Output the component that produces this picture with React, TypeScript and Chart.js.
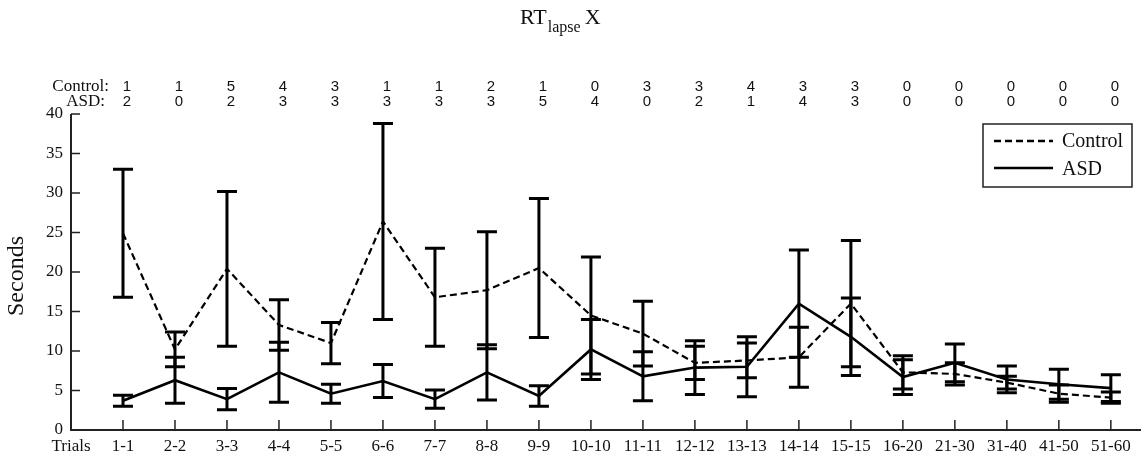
import React, { useEffect, useRef } from 'react';
import { Chart, registerables } from 'chart.js';

Chart.register(...registerables);

const categories = ['1-1', '2-2', '3-3', '4-4', '5-5', '6-6', '7-7', '8-8', '9-9', '10-10', '11-11', '12-12', '13-13', '14-14', '15-15', '16-20', '21-30', '31-40', '41-50', '51-60'];
const controlCounts = [1, 1, 5, 4, 3, 1, 1, 2, 1, 0, 3, 3, 4, 3, 3, 0, 0, 0, 0, 0];
const asdCounts = [2, 0, 2, 3, 3, 3, 3, 3, 5, 4, 0, 2, 1, 4, 3, 0, 0, 0, 0, 0];

const controlMean = [24.9, 10.2, 20.4, 13.3, 11.0, 26.4, 16.8, 17.7, 20.5, 14.5, 12.2, 8.5, 8.8, 9.2, 16.0, 7.3, 7.1, 6.0, 4.6, 4.1];
const controlErr = [8.1, 2.2, 9.8, 3.2, 2.6, 12.4, 6.2, 7.4, 8.8, 7.4, 4.1, 2.1, 2.2, 3.8, 8.0, 2.1, 1.4, 0.8, 1.1, 0.7];
const asdMean = [3.7, 6.3, 3.9, 7.3, 4.6, 6.2, 3.9, 7.3, 4.3, 10.2, 6.8, 7.9, 8.0, 16.0, 11.8, 6.7, 8.5, 6.4, 5.8, 5.3];
const asdErr = [0.7, 2.9, 1.35, 3.8, 1.2, 2.1, 1.15, 3.5, 1.3, 3.8, 3.1, 3.4, 3.8, 6.8, 4.9, 2.2, 2.4, 1.7, 1.9, 1.7];

const yTicks = [0, 5, 10, 15, 20, 25, 30, 35, 40];

const W = 1146;
const H = 458;
const SERIF = '"Liberation Serif", "Times New Roman", serif';
const SANS = '"Liberation Sans", Arial, sans-serif';
const INK = '#111';

export default function App() {
  const ref = useRef<HTMLCanvasElement>(null);

  useEffect(() => {
    const canvas = ref.current;
    if (!canvas) return;

    const overlay = {
      id: 'overlay',
      afterDatasetsDraw(chart: any) {
        const ctx = chart.ctx;
        const xs = chart.scales.x;
        const ys = chart.scales.y;
        const { left, right, top, bottom } = chart.chartArea;
        ctx.save();

        // error bars
        const drawBars = (mean: number[], err: number[]) => {
          ctx.strokeStyle = '#000';
          ctx.lineWidth = 3;
          ctx.setLineDash([]);
          mean.forEach((m, i) => {
            const x = xs.getPixelForValue(i + 1);
            const yHi = ys.getPixelForValue(m + err[i]);
            const yLo = ys.getPixelForValue(m - err[i]);
            ctx.beginPath();
            ctx.moveTo(x, yHi);
            ctx.lineTo(x, yLo);
            ctx.moveTo(x - 10, yHi);
            ctx.lineTo(x + 10, yHi);
            ctx.moveTo(x - 10, yLo);
            ctx.lineTo(x + 10, yLo);
            ctx.stroke();
          });
        };
        drawBars(controlMean, controlErr);
        drawBars(asdMean, asdErr);

        // axes
        ctx.strokeStyle = '#222';
        ctx.lineWidth = 2;
        ctx.beginPath();
        ctx.moveTo(left, top);
        ctx.lineTo(left, bottom);
        ctx.lineTo(right, bottom);
        ctx.stroke();
        ctx.lineWidth = 1.5;
        ctx.beginPath();
        yTicks.forEach((v) => {
          const y = ys.getPixelForValue(v);
          ctx.moveTo(left, y);
          ctx.lineTo(left + 9, y);
        });
        categories.forEach((_, i) => {
          const x = xs.getPixelForValue(i + 1);
          ctx.moveTo(x, bottom);
          ctx.lineTo(x, bottom - 10);
        });
        ctx.stroke();

        // counts rows
        ctx.fillStyle = INK;
        ctx.textBaseline = 'middle';
        ctx.textAlign = 'right';
        ctx.font = `17px ${SERIF}`;
        ctx.fillText('Control:', 109, 87);
        ctx.fillText('ASD:', 105, 102);
        ctx.textAlign = 'center';
        ctx.font = `15px ${SANS}`;
        categories.forEach((_, i) => {
          const x = xs.getPixelForValue(i + 1) + 4;
          ctx.fillText(String(controlCounts[i]), x, 87);
          ctx.fillText(String(asdCounts[i]), x, 102);
        });

        // title
        ctx.textAlign = 'left';
        ctx.textBaseline = 'alphabetic';
        ctx.font = `22px ${SERIF}`;
        let tx = 520;
        ctx.fillText('RT', tx, 24);
        tx += ctx.measureText('RT').width + 1;
        ctx.font = `16px ${SERIF}`;
        ctx.fillText('lapse', tx, 32);
        tx += ctx.measureText('lapse').width + 4;
        ctx.font = `22px ${SERIF}`;
        ctx.fillText('X', tx, 24);

        // y label
        ctx.save();
        ctx.translate(17, 276);
        ctx.rotate(-Math.PI / 2);
        ctx.textAlign = 'center';
        ctx.textBaseline = 'middle';
        ctx.font = `24px ${SERIF}`;
        ctx.fillText('Seconds', 0, 0);
        ctx.restore();

        // legend
        ctx.fillStyle = '#fff';
        ctx.fillRect(983, 124, 149, 63);
        ctx.strokeStyle = '#222';
        ctx.lineWidth = 1.5;
        ctx.strokeRect(983, 124, 149, 63);
        ctx.strokeStyle = '#000';
        ctx.lineWidth = 2.5;
        ctx.setLineDash([7, 4]);
        ctx.beginPath();
        ctx.moveTo(994, 141);
        ctx.lineTo(1053, 141);
        ctx.stroke();
        ctx.setLineDash([]);
        ctx.beginPath();
        ctx.moveTo(994, 168);
        ctx.lineTo(1053, 168);
        ctx.stroke();
        ctx.fillStyle = INK;
        ctx.font = `20px ${SERIF}`;
        ctx.textBaseline = 'middle';
        ctx.textAlign = 'left';
        ctx.fillText('Control', 1062, 142);
        ctx.fillText('ASD', 1062, 170);

        ctx.restore();
      },
    };

    const chart = new Chart(canvas, {
      type: 'line',
      data: {
        datasets: [
          {
            label: 'Control',
            data: categories.map((_, i) => ({ x: i + 1, y: controlMean[i] })),
            borderColor: '#000',
            borderWidth: 2.2,
            borderDash: [7, 4],
            pointRadius: 0,
            fill: false,
            tension: 0,
          },
          {
            label: 'ASD',
            data: categories.map((_, i) => ({ x: i + 1, y: asdMean[i] })),
            borderColor: '#000',
            borderWidth: 2.6,
            pointRadius: 0,
            fill: false,
            tension: 0,
          },
        ],
      },
      options: {
        animation: false,
        responsive: false,
        maintainAspectRatio: false,
        layout: { padding: { top: 114, right: 5, left: 0, bottom: 0 } },
        plugins: {
          legend: { display: false },
          tooltip: { enabled: false },
          title: { display: false },
        },
        scales: {
          x: {
            type: 'linear',
            min: 0,
            max: 20.58,
            afterBuildTicks: (s: any) => {
              s.ticks = [0, ...categories.map((_, i) => i + 1)].map((v) => ({ value: v }));
            },
            afterFit: (s: any) => {
              s.height = 28;
            },
            grid: { display: false, drawTicks: false },
            border: { display: false },
            ticks: {
              autoSkip: false,
              maxRotation: 0,
              minRotation: 0,
              padding: 6,
              color: INK,
              font: { family: SERIF, size: 17 },
              callback: (v: any) => (v === 0 ? 'Trials' : categories[v - 1] ?? ''),
            },
          },
          y: {
            min: 0,
            max: 40,
            afterBuildTicks: (s: any) => {
              s.ticks = yTicks.map((v) => ({ value: v }));
            },
            afterFit: (s: any) => {
              s.width = 71;
            },
            grid: { display: false, drawTicks: false },
            border: { display: false },
            ticks: {
              padding: 8,
              color: INK,
              font: { family: SERIF, size: 17 },
            },
          },
        },
      },
      plugins: [overlay],
    });
    return () => chart.destroy();
  }, []);

  return (
    <div style={{ position: 'fixed', left: 0, top: 0, width: W, height: H, background: '#fff' }}>
      <canvas ref={ref} width={W} height={H} style={{ width: W, height: H, display: 'block' }} />
    </div>
  );
}
